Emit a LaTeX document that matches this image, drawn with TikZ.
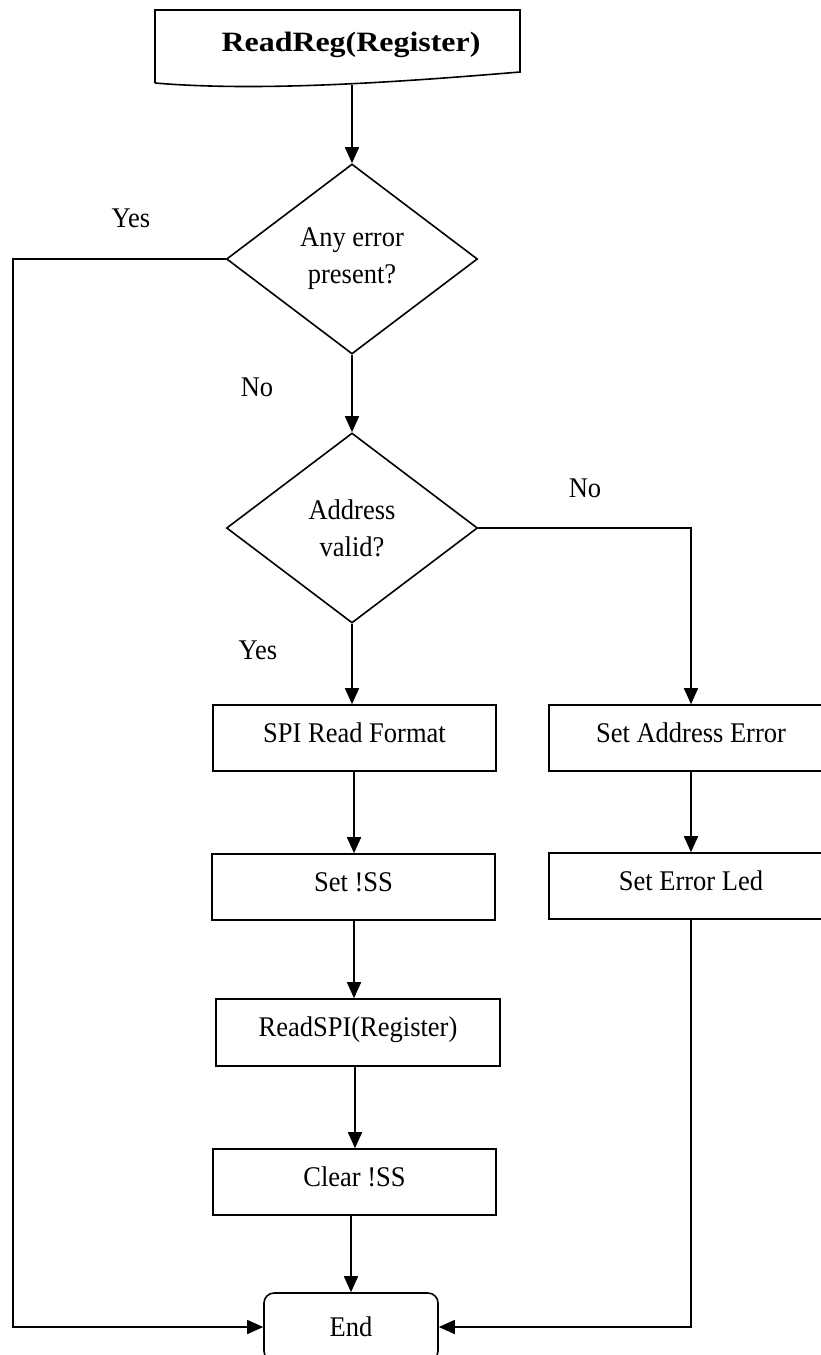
\documentclass[tikz,border=0pt]{standalone}
\usepackage{fontspec}
\setmainfont{Liberation Serif}[FakeStretch=0.93]
\newfontfamily\titlefont{Liberation Serif}[FakeStretch=1.14]
\usetikzlibrary{arrows.meta,shapes.geometric}
\begin{document}
\begin{tikzpicture}[x=1pt,y=-1pt,
  line width=1.6pt,
  font=\fontsize{28.5}{37}\selectfont,
  arr/.style={-{Triangle[length=16pt,width=14pt]}},
  procbox/.style={draw,rectangle,minimum width=283pt,minimum height=66pt,inner sep=0pt,text height=19pt,text depth=11pt},
  decision/.style={draw,diamond,minimum width=251pt,minimum height=190pt,inner sep=0pt,aspect=1.32,align=center},
  endbox/.style={draw,rectangle,rounded corners=10pt,minimum width=174pt,minimum height=68pt,inner sep=0pt},
  lbl/.style={inner sep=0pt}
]
\useasboundingbox (0,0) rectangle (821,1355);

% start document shape
\draw (155,83) -- (155,10) -- (520,10) -- (520,72) .. controls (400,82) and (260,92) .. (155,83);
\node[lbl,font=\titlefont\fontsize{28}{34}\selectfont\bfseries] (start) at (351,45) {ReadReg(Register)};
\coordinate (startb) at (352,85);

\node[decision] (d1) at (352,259) {Any error\\present?};
\node[decision] (d2) at (352,528) {Address\\valid?};

\node[procbox] (spi) at (354.5,738) {SPI Read Format};
\node[procbox] (setss) at (353.5,887) {Set !SS};
\node[procbox,minimum width=284pt,minimum height=67pt] (rspi) at (358,1032.5) {ReadSPI(Register)};
\node[procbox] (clr) at (354.5,1182) {Clear !SS};

\node[procbox,minimum width=284pt] (sae) at (691,738) {Set Address Error};
\node[procbox,minimum width=284pt] (sel) at (691,886) {Set Error Led};

\node[endbox] (end) at (351,1327) {End};

\node[lbl] (yes1) at (131,218) {Yes};
\node[lbl] (no1) at (257,387) {No};
\node[lbl] (no2) at (585,488) {No};
\node[lbl] (yes2) at (258,650) {Yes};

\coordinate (lft) at (13,0);

\draw[arr] (startb) -- (d1.north);
\draw[arr] (d1.south) -- (d2.north);
\draw[arr] (d2.south) -- (d2.south |- spi.north);
\draw[arr] (d2.east) -| (sae.north);
\draw[arr] (spi.south -| d2.south) ++(2,0) coordinate (a1) -- (a1 |- setss.north);
\draw[arr] (setss.south -| a1) -- (a1 |- rspi.north);
\draw[arr] (rspi.south -| a1) ++(1,0) coordinate (a2) -- (a2 |- clr.north);
\draw[arr] (clr.south -| end.north) -- (end.north);
\draw[arr] (sae.south) -- (sel.north);
\draw[arr] (d1.west) -- (d1.west -| lft) |- (end.west);
\draw[arr] (sel.south) -- (sel.south |- end.east) -- (end.east);
\end{tikzpicture}
\end{document}
